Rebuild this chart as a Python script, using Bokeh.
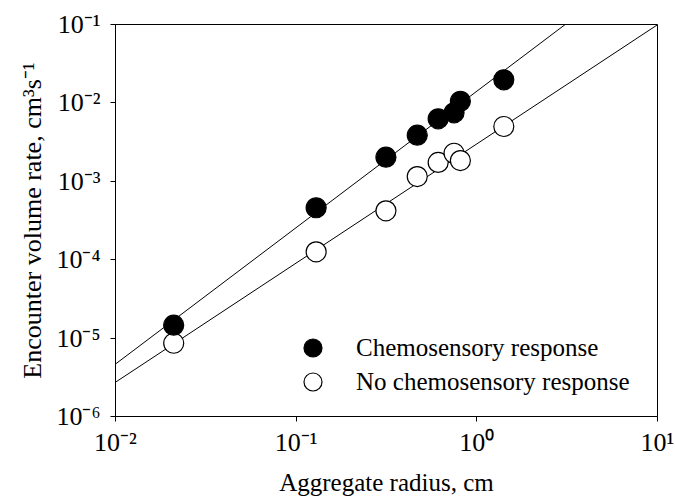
import numpy as np
from bokeh.plotting import figure
from bokeh.models import (Range1d, FixedTicker, CustomJSTickFormatter, Title,
                          Legend, LegendItem)
from bokeh.embed import file_html
from bokeh.resources import INLINE

# ---- data ----
radius_chemo = [0.021, 0.129, 0.314, 0.468, 0.611, 0.748, 0.811, 1.41]
rate_chemo = [1.46e-5, 4.6e-4, 2.03e-3, 3.87e-3, 6.27e-3, 7.48e-3, 1.05e-2, 1.97e-2]

radius_nochemo = [0.021, 0.129, 0.314, 0.468, 0.611, 0.748, 0.811, 1.41]
rate_nochemo = [8.6e-6, 1.26e-4, 4.2e-4, 1.15e-3, 1.74e-3, 2.28e-3, 1.84e-3, 5.0e-3]

# power-law fits  rate = a * radius**b
fit_chemo = {"a": 0.0141, "b": 1.74}
fit_nochemo = {"a": 0.0030, "b": 1.52}

x_ticks = [1e-2, 1e-1, 1e0, 1e1]
y_ticks = [1e-6, 1e-5, 1e-4, 1e-3, 1e-2, 1e-1]

x_title = "Aggregate radius, cm"
y_title = "Encounter volume rate, cm\u00b3s\u207b\u00b9"
label_chemo = "Chemosensory response"
label_nochemo = "No chemosensory response"

FONT = "Liberation Serif"

p = figure(width=675, height=502, x_axis_type="log", y_axis_type="log",
           x_range=Range1d(1e-2, 1e1), y_range=Range1d(1e-6, 1e-1),
           output_backend="svg", toolbar_location=None,
           min_border_left=115, min_border_right=18,
           min_border_top=24, min_border_bottom=86)
p.background_fill_color = "white"
p.border_fill_color = "white"
p.outline_line_color = "black"
p.outline_line_width = 1
p.xgrid.visible = False
p.ygrid.visible = False

fmt = CustomJSTickFormatter(code="""
const sup = {'-':'\u207b','0':'\u2070','1':'\u00b9','2':'\u00b2','3':'\u00b3',
             '4':'\u2074','5':'\u2075','6':'\u2076','7':'\u2077','8':'\u2078','9':'\u2079'};
const e = Math.round(Math.log10(tick)).toString();
return '10' + e.split('').map(c => sup[c]).join('');
""")

for ax, ticks in ((p.xaxis[0], x_ticks), (p.yaxis[0], y_ticks)):
    ax.ticker = FixedTicker(ticks=ticks, minor_ticks=[])
    ax.formatter = fmt
    ax.axis_line_color = "black"
    ax.axis_line_width = 1
    ax.major_tick_line_color = "black"
    ax.major_tick_out = 5
    ax.major_tick_in = 0
    ax.minor_tick_out = 0
    ax.minor_tick_in = 0
    ax.major_label_text_font = FONT
    ax.major_label_text_font_size = "26px"
    ax.major_label_text_color = "black"
p.xaxis.major_label_standoff = 6
p.yaxis.major_label_standoff = 10

p.xaxis.axis_label = x_title
p.xaxis.axis_label_text_font = FONT
p.xaxis.axis_label_text_font_size = "25px"
p.xaxis.axis_label_text_font_style = "normal"
p.xaxis.axis_label_text_color = "black"
p.xaxis.axis_label_standoff = 9

p.add_layout(Title(text=y_title, align="center", standoff=14,
                   text_font=FONT, text_font_size="26px",
                   text_font_style="normal", text_color="black"), "left")

# fitted lines
xl = np.array([x_ticks[0], x_ticks[-1]])
p.line(xl, fit_chemo["a"] * xl ** fit_chemo["b"], line_color="black", line_width=1)
p.line(xl, fit_nochemo["a"] * xl ** fit_nochemo["b"], line_color="black", line_width=1)

r_open = p.scatter(radius_nochemo, rate_nochemo, size=20, marker="circle",
                   fill_color="white", line_color="black", line_width=1.2)
r_fill = p.scatter(radius_chemo, rate_chemo, size=20, marker="circle",
                   fill_color="black", line_color="black", line_width=1.2)

legend_style = dict(orientation="vertical", glyph_width=45, glyph_height=45,
                    label_standoff=21, padding=0, margin=0,
                    border_line_alpha=0, background_fill_alpha=0,
                    label_text_font=FONT, label_text_font_size="25px",
                    label_text_color="black")
p.add_layout(Legend(items=[LegendItem(label=label_chemo, renderers=[r_fill])],
                    location=(175, 46), **legend_style), "center")
p.add_layout(Legend(items=[LegendItem(label=label_nochemo, renderers=[r_open])],
                    location=(175, 12), **legend_style), "center")

open("out.html", "w").write(file_html(p, INLINE))
